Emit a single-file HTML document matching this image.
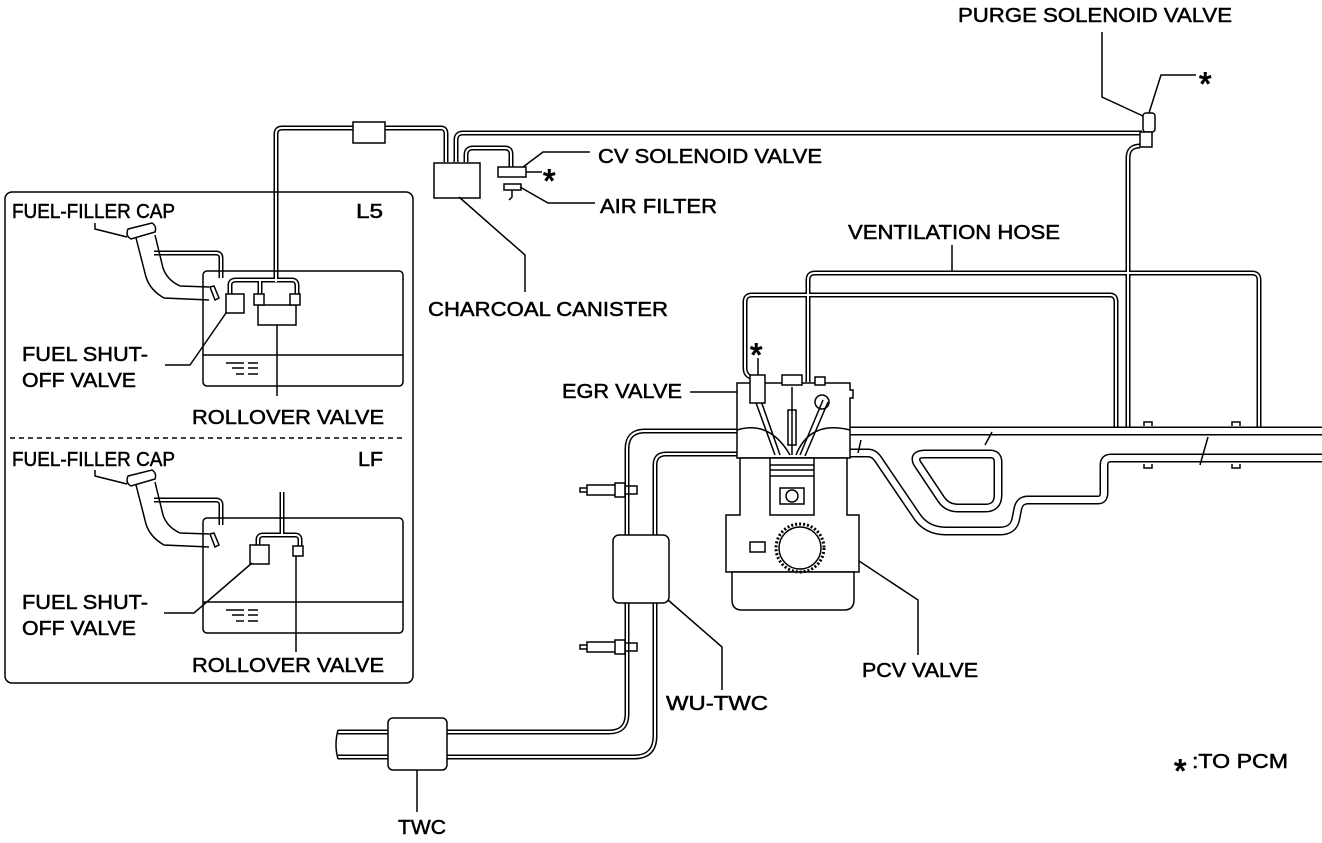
<!DOCTYPE html>
<html><head><meta charset="utf-8"><style>
html,body{margin:0;padding:0;background:#fff;}
svg{display:block;}
text{font-family:"Liberation Sans",Arial,sans-serif;font-size:20px;fill:#000;stroke:#000;stroke-width:0.5;}
text.ast{font-size:32px;stroke-width:1;}
</style></head><body>
<svg width="1322" height="843" viewBox="0 0 1322 843" xmlns="http://www.w3.org/2000/svg">
<defs>
<path id="h1" d="M276,282 V134 Q276,128 282,128 H441 Q446,128 446,134 V162"/>
<path id="h2" d="M456,162 V140 Q456,133 463,133 H1142"/>
<path id="h3" d="M466,162 V155 Q466,148 473,148 H505 Q511,148 511,154 V168"/>
<path id="h4" d="M1140,146 Q1128,146 1128,158 V430"/>
<path id="v1" d="M808,382 V280 Q808,273 815,273 H1252 Q1259,273 1259,280 V430"/>
<path id="v2" d="M757,378 Q745,378 745,368 V302 Q745,295 752,295 H1110 Q1116,295 1116,302 V430"/>
<path id="l5p" d="M230,295 V285 Q230,280 236,280 H292 Q297,280 297,286 V294 M260,294 V280 M276,282 V280"/>
<path id="l5v" d="M154,253 H216 Q221,253 221,258 V278"/>
<path id="lfp" d="M282,492 V528 M258,545 V540 Q258,535 263,535 H295 Q300,535 300,540 V546 M282,528 V535"/>
<path id="lfv" d="M154,500 H216 Q221,500 221,505 V525"/>
<path id="ex1" d="M748,431 H645 Q627,431 627,449 V714 Q627,732 609,732 H338"/>
<path id="ex2" d="M748,454 H666 Q655,454 655,465 V736 Q655,757 634,757 H338"/>
<path id="in1" d="M850,431 H1322"/>
<path id="in2" d="M850,453 H868 Q874,453 878,459 L916,515 Q926,531 946,531 H1000 Q1014,531 1016,518 L1018,508 Q1020,500 1028,500 H1098 Q1104,500 1104,493 V465 Q1104,458 1111,458 H1322"/>
<path id="loop" d="M925,454 H990 Q998,454 998,462 V495 Q998,508 985,508 H958 Q947,508 941,499 L917,463 Q913,454 925,454 Z"/>
</defs>
<g fill="none" stroke-linejoin="round">
<g stroke="#000" stroke-width="5">
<use href="#h1"/><use href="#h2"/><use href="#h3"/><use href="#h4"/><use href="#v1"/><use href="#v2"/>
<use href="#l5p"/><use href="#l5v"/><use href="#lfp"/><use href="#lfv"/>
<use href="#ex1"/><use href="#ex2"/>
</g>
<g stroke="#fff" stroke-width="2">
<use href="#h1"/><use href="#h2"/><use href="#h3"/><use href="#h4"/><use href="#v1"/><use href="#v2"/>
<use href="#l5p"/><use href="#l5v"/><use href="#lfp"/><use href="#lfv"/>
<use href="#ex1"/><use href="#ex2"/>
</g>
<g stroke="#000" stroke-width="9"><use href="#in1"/><use href="#in2"/><use href="#loop"/></g>
<g stroke="#fff" stroke-width="6"><use href="#in1"/><use href="#in2"/><use href="#loop"/></g>
</g>
<g fill="#fff" stroke="#000" stroke-width="1.5">
<rect x="353" y="122" width="32" height="21"/>
<rect x="434" y="163" width="46" height="35"/>
<rect x="498" y="167" width="28" height="10"/>
<rect x="504" y="184" width="17" height="6"/>
<rect x="1143" y="113" width="12" height="19" rx="3"/>
<rect x="1140" y="132" width="12" height="15"/>
<rect x="5" y="192" width="408" height="491" rx="7" fill="none"/>
<rect x="203" y="271" width="200" height="115" rx="4" fill="none"/>
<rect x="226" y="294" width="18" height="19"/>
<rect x="258" y="305" width="38" height="20"/>
<rect x="254" y="294" width="10" height="11"/>
<rect x="290" y="294" width="10" height="11"/>
<rect x="203" y="518" width="200" height="115" rx="4" fill="none"/>
<rect x="250" y="545" width="19" height="19"/>
<rect x="293" y="546" width="10" height="10"/>
<rect x="613" y="535" width="56" height="68" rx="6"/>
<rect x="388" y="718" width="59" height="52" rx="5"/>
</g>
<g fill="none" stroke="#000" stroke-width="1.5">
<line x1="10" y1="438" x2="405" y2="438" stroke-dasharray="5,4"/>
<line x1="203" y1="355" x2="403" y2="355"/>
<line x1="203" y1="602" x2="403" y2="602"/>
<path d="M226,363 H244 M232,368 H244 M236,374 H244 M248,363 H258 M248,368 H258 M248,374 H258"/>
<path d="M226,610 H244 M232,615 H244 M236,621 H244 M248,610 H258 M248,615 H258 M248,621 H258"/>
<path d="M136,238 L146,277 Q150,290 164,298 L209,300 M155,235 L163,268 Q167,280 180,286 L209,287"/>
<path d="M128,229 L152,223 Q157,226 155,232 L131,239 Q125,236 128,229 Z" fill="#fff"/>
<path d="M210,287 L214,286 L219,298 L215,300 Z"/>
<path d="M136,485 L146,524 Q150,537 164,545 L209,547 M155,482 L163,515 Q167,527 180,533 L209,534"/>
<path d="M128,476 L152,470 Q157,473 155,479 L131,486 Q125,483 128,476 Z" fill="#fff"/>
<path d="M210,534 L214,533 L219,545 L215,547 Z"/>
<path d="M95,223 V229 L127,237"/>
<path d="M95,470 V476 L127,484"/>
<path d="M165,365 H190 L226,313"/>
<path d="M164,613 H194 L252,563"/>
<line x1="277" y1="325" x2="277" y2="396"/>
<line x1="296" y1="556" x2="296" y2="652"/>
<path d="M459,197 L525,255 V292"/>
<path d="M523,167 L543,152 H590"/>
<path d="M526,172 H542"/>
<path d="M520,187 L548,203 H595"/>
<path d="M512,190 V197 L509,200"/>
<path d="M1102,32 V97 L1143,116"/>
<path d="M1149,113 L1161,75 H1196"/>
<path d="M952,245 V271"/>
<path d="M690,392 H752"/>
<line x1="758" y1="358" x2="758" y2="375"/>
<path d="M850,555 L918,600 V655"/>
<path d="M668,600 L722,647 V690"/>
<line x1="417" y1="770" x2="417" y2="812"/>
<path d="M338,730 Q334,745 338,759"/>
<g fill="#fff">
<path d="M737,383 H850 V390 H853 V398 H850 V458 H737 Z"/>
<path d="M740,458 H847 V515 H859 V572 H726 V515 H740 Z"/>
<path d="M732,572 H854 V600 Q854,610 844,610 H742 Q732,610 732,600 Z"/>
</g>
<path d="M737,430 Q770,420 790,455 M850,430 Q810,420 796,455"/>
<rect x="770" y="458" width="44" height="57" fill="#fff"/>
<path d="M770,465 H814 M770,470 H814 M770,476 H814"/>
<rect x="780" y="488" width="24" height="16"/>
<circle cx="792" cy="496" r="6"/>
<circle cx="800" cy="548" r="24" stroke-dasharray="2,2" stroke-width="3"/>
<circle cx="800" cy="548" r="21" fill="#fff"/>
<rect x="750" y="542" width="15" height="10" fill="#fff"/>
<path d="M755,400 L775,455 M760,398 L780,455 M823,400 L800,455 M828,402 L805,456"/>
<line x1="792" y1="387" x2="792" y2="455"/>
<rect x="788" y="410" width="8" height="35"/>
<rect x="750" y="375" width="15" height="28" fill="#fff"/>
<rect x="782" y="375" width="20" height="10" fill="#fff"/>
<rect x="815" y="377" width="10" height="8" fill="#fff"/>
<circle cx="822" cy="402" r="7"/>
<path d="M580,488 H587 V492 H580 Z M587,485 H615 V495 H587 Z M615,483 H625 V497 H615 Z M625,486 H637 V494 H625 Z"/>
<path d="M580,645 H587 V649 H580 Z M587,642 H615 V652 H587 Z M615,640 H625 V654 H615 Z M625,643 H637 V651 H625 Z"/>
<path d="M1144,426 V422 H1152 V426 M1144,464 V468 H1152 V464 M1232,426 V422 H1240 V426 M1232,464 V468 H1240 V464"/>
<path d="M985,445 L992,432 M1200,465 L1208,437 M858,453 L861,440"/>
</g>
<g>
<text x="958" y="22" textLength="274" lengthAdjust="spacingAndGlyphs">PURGE SOLENOID VALVE</text>
<text class="ast" x="1199" y="95">*</text>
<text x="598" y="163" textLength="224" lengthAdjust="spacingAndGlyphs">CV SOLENOID VALVE</text>
<text class="ast" x="543" y="192">*</text>
<text x="600" y="213" textLength="117" lengthAdjust="spacingAndGlyphs">AIR FILTER</text>
<text x="848" y="239" textLength="212" lengthAdjust="spacingAndGlyphs">VENTILATION HOSE</text>
<text x="428" y="316" textLength="240" lengthAdjust="spacingAndGlyphs">CHARCOAL CANISTER</text>
<text class="ast" x="750" y="366">*</text>
<text x="562" y="398" textLength="120" lengthAdjust="spacingAndGlyphs">EGR VALVE</text>
<text x="12" y="218" textLength="163" lengthAdjust="spacingAndGlyphs">FUEL-FILLER CAP</text>
<text x="356" y="218" textLength="27" lengthAdjust="spacingAndGlyphs">L5</text>
<text x="22" y="361" textLength="126" lengthAdjust="spacingAndGlyphs">FUEL SHUT-</text>
<text x="22" y="387" textLength="114" lengthAdjust="spacingAndGlyphs">OFF VALVE</text>
<text x="192" y="424" textLength="192" lengthAdjust="spacingAndGlyphs">ROLLOVER VALVE</text>
<text x="12" y="466" textLength="163" lengthAdjust="spacingAndGlyphs">FUEL-FILLER CAP</text>
<text x="358" y="466" textLength="25" lengthAdjust="spacingAndGlyphs">LF</text>
<text x="22" y="609" textLength="126" lengthAdjust="spacingAndGlyphs">FUEL SHUT-</text>
<text x="22" y="635" textLength="114" lengthAdjust="spacingAndGlyphs">OFF VALVE</text>
<text x="192" y="672" textLength="192" lengthAdjust="spacingAndGlyphs">ROLLOVER VALVE</text>
<text x="862" y="677" textLength="116" lengthAdjust="spacingAndGlyphs">PCV VALVE</text>
<text x="666" y="710" textLength="102" lengthAdjust="spacingAndGlyphs">WU-TWC</text>
<text x="398" y="834" textLength="48" lengthAdjust="spacingAndGlyphs">TWC</text>
<text class="ast" x="1174" y="782">*</text>
<text x="1192" y="768" textLength="96" lengthAdjust="spacingAndGlyphs">:TO PCM</text>
</g>
</svg>
</body></html>
